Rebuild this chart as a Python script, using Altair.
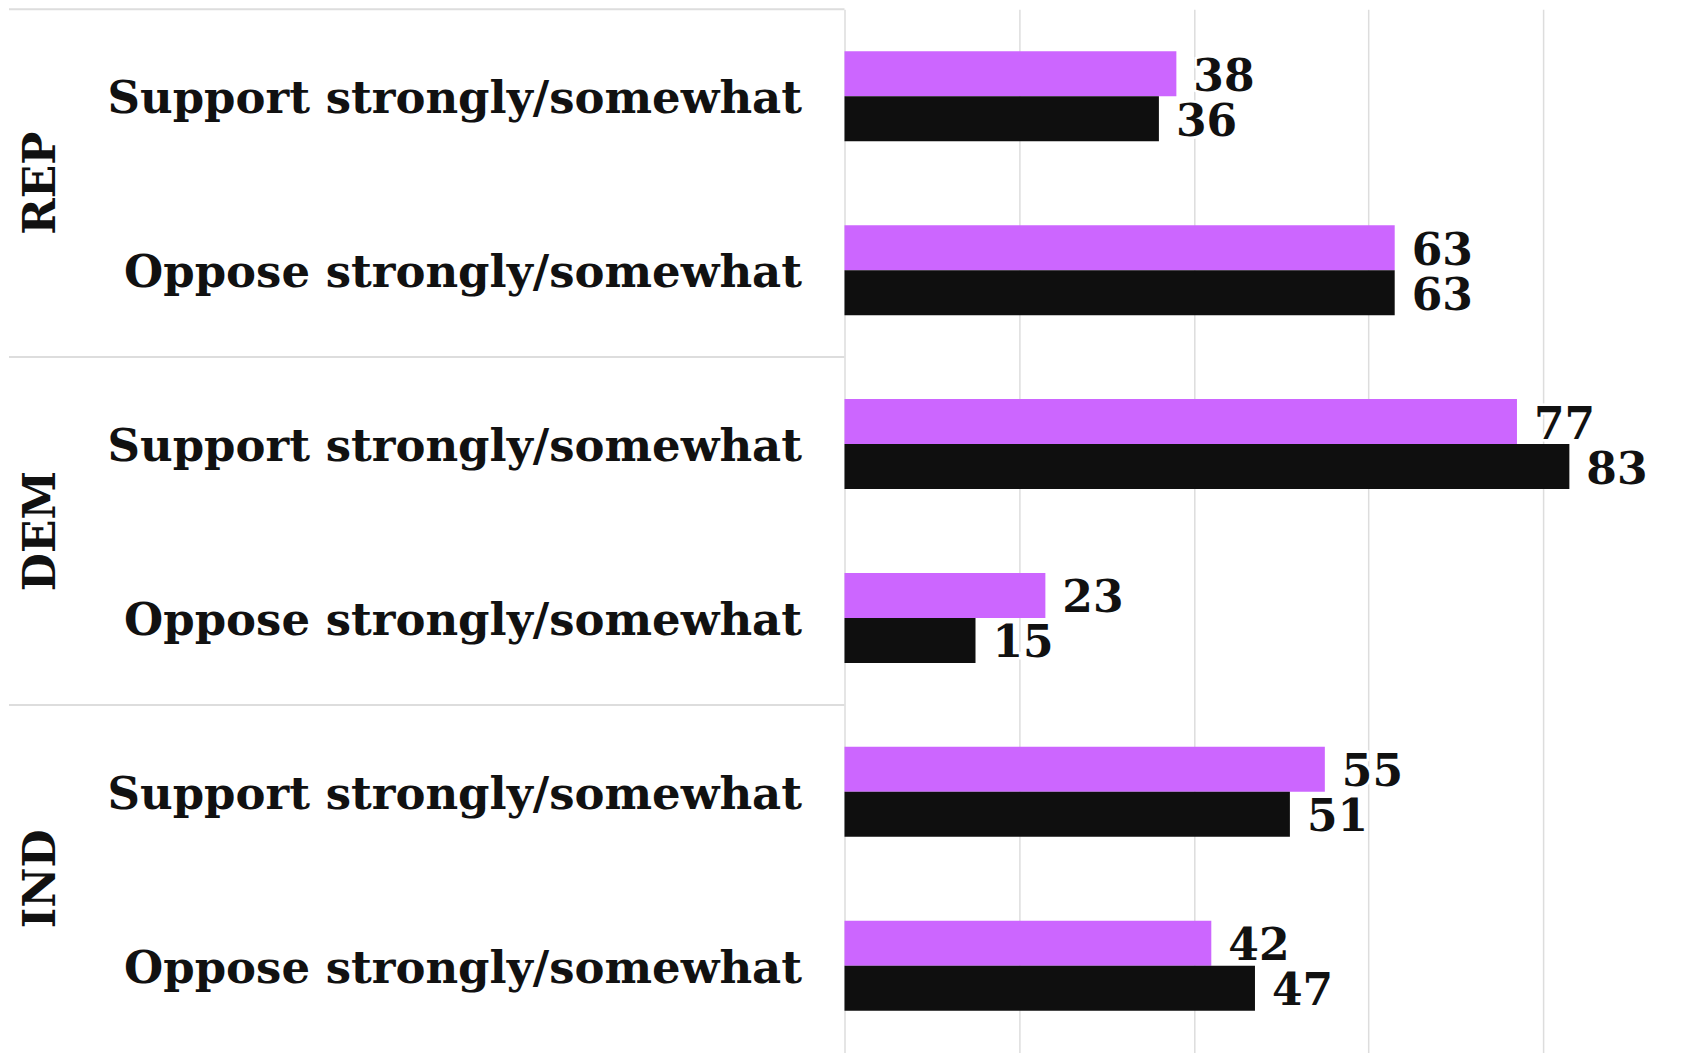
import altair as alt
import pandas as pd

parties = ["REP", "DEM", "IND"]
answers = ["Support strongly/somewhat", "Oppose strongly/somewhat"]
series = ["Earlier", "Latest"]
values_earlier = [38, 63, 77, 23, 55, 42]   # purple bars
values_latest = [36, 63, 83, 15, 51, 47]    # black bars
colors = ["#cc66ff", "#0f0f0f"]
x_ticks = [0, 20, 40, 60, 80]

FONT = "DejaVu Serif"
FS = 44
FS_LABEL = 45

keys = []
rows = []
for i, p in enumerate(parties):
    for j, a in enumerate(answers):
        k = f"{p}|{a}"
        keys.append(k)
        idx = i * 2 + j
        rows.append({"key": k, "party": p, "answer": a, "series": series[0], "value": values_earlier[idx]})
        rows.append({"key": k, "party": p, "answer": a, "series": series[1], "value": values_latest[idx]})
df = pd.DataFrame(rows)

sep_df = pd.DataFrame({"key": [f"{p}|{answers[0]}" for p in parties], "party": parties})
party_df = pd.DataFrame({"key": [f"{p}|{answers[1]}" for p in parties], "party": parties})

yscale = alt.Scale(domain=keys, paddingInner=0, paddingOuter=0)
xscale = alt.Scale(domain=[0, 97.5], nice=False, zero=True)
offscale = alt.Scale(domain=series, paddingInner=0, paddingOuter=0.933)

yaxis = alt.Axis(title=None, ticks=False, domain=False, labelPadding=43, labelOffset=3,
                 labelLimit=900, labelFont=FONT, labelFontSize=FS_LABEL,
                 labelFontWeight="bold", labelColor="#111111",
                 labelExpr="split(datum.value, '|')[1]")
xaxis = alt.Axis(values=x_ticks, grid=True, gridColor="#dddddd", gridWidth=1.5,
                 labels=False, ticks=False, domain=False, title=None)

base = alt.Chart(df)

bars = base.mark_bar().encode(
    x=alt.X("value:Q", scale=xscale, axis=xaxis),
    y=alt.Y("key:N", sort=keys, scale=yscale, axis=yaxis),
    yOffset=alt.YOffset("series:N", sort=series, scale=offscale),
    color=alt.Color("series:N", sort=series, scale=alt.Scale(domain=series, range=colors), legend=None),
)

halo = base.mark_text(align="left", baseline="middle", dx=17, dy=4, font=FONT, fontSize=FS,
                      fontWeight="bold", color="white", stroke="white", strokeWidth=5).encode(
    x=alt.X("value:Q", scale=xscale, axis=xaxis),
    y=alt.Y("key:N", sort=keys, scale=yscale, axis=yaxis),
    yOffset=alt.YOffset("series:N", sort=series, scale=offscale),
    text="value:Q",
)

labels = base.mark_text(align="left", baseline="middle", dx=17, dy=4, font=FONT, fontSize=FS,
                        fontWeight="bold", color="#111111").encode(
    x=alt.X("value:Q", scale=xscale, axis=xaxis),
    y=alt.Y("key:N", sort=keys, scale=yscale, axis=yaxis),
    yOffset=alt.YOffset("series:N", sort=series, scale=offscale),
    text="value:Q",
)

seps = alt.Chart(sep_df).mark_rule(color="#dddddd", strokeWidth=2).encode(
    x=alt.value(-836), x2=alt.value(0),
    y=alt.Y("key:N", sort=keys, scale=yscale, axis=yaxis, bandPosition=0),
)

party_text = alt.Chart(party_df).mark_text(angle=270, align="center", baseline="middle",
                                           font=FONT, fontSize=FS, fontWeight="bold",
                                           color="#111111").encode(
    x=alt.value(-803),
    y=alt.Y("key:N", sort=keys, scale=yscale, axis=yaxis, bandPosition=0),
    text="party:N",
)

chart = alt.layer(bars, halo, labels, seps, party_text).properties(
    width=852, height=1044, padding=0
).configure_view(strokeWidth=0)

chart.save("out.html", embed_options={"renderer": "svg", "actions": False})
